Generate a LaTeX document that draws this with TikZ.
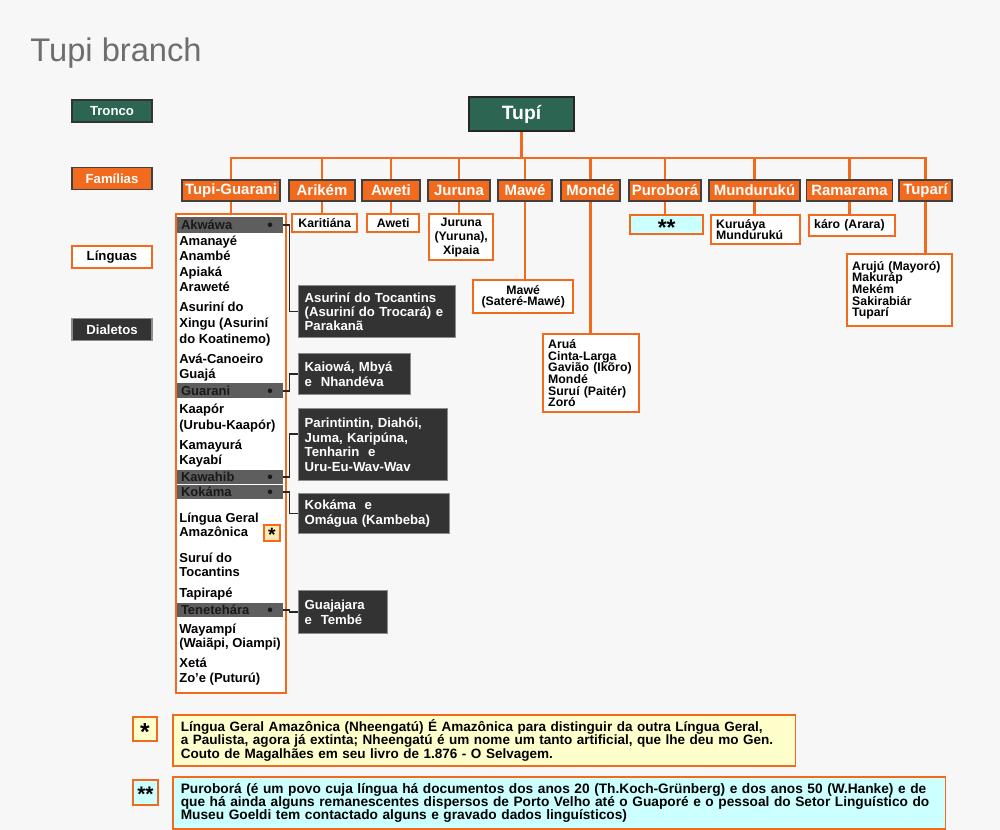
\documentclass[tikz,border=0pt]{standalone}
\usepackage{fontspec}
\setmainfont{Liberation Sans}
\definecolor{bggray}{HTML}{F7F7F7}
\definecolor{trunkgreen}{HTML}{2C6552}
\definecolor{famorange}{HTML}{F26A1E}
\definecolor{dialgray}{HTML}{333333}
\definecolor{rowgray}{HTML}{5E5E5E}
\definecolor{noteyellow}{HTML}{FFFFCC}
\definecolor{notecyan}{HTML}{CCFFFF}
\definecolor{starfill}{HTML}{FFE9B5}
\definecolor{titlegray}{HTML}{6E6E6E}
\newcommand{\rowdot}{\hfill\smash{\raisebox{-0.6pt}{\fontsize{9}{9}\selectfont\textbullet}}\hspace*{0.12cm}}
\begin{document}
\begin{tikzpicture}[x=0.02cm,y=-0.02cm]
% Styles
\tikzstyle{legend}=[minimum width=1.6cm,minimum height=0.44cm,inner sep=0pt,font=\fontsize{7.5}{9}\selectfont\bfseries]
\tikzstyle{family}=[fill=famorange,draw=black!75,line width=0.9pt,text=white,inner sep=0pt,minimum height=0.42cm,font=\fontsize{8.5}{10}\selectfont\bfseries]
\tikzstyle{lang}=[draw=famorange,line width=1.4pt,fill=white,anchor=north west,inner xsep=0.1cm,inner ysep=0pt,font=\fontsize{7}{6.6}\selectfont\bfseries]
\tikzstyle{item}=[anchor=base west,inner sep=0pt,font=\fontsize{7.4}{8}\selectfont\bfseries]
\tikzstyle{hlrow}=[fill=rowgray,text=black!90,text width=1.96cm,inner xsep=0.08cm,inner ysep=0pt,minimum height=0.3cm,font=\fontsize{7.4}{8}\selectfont\bfseries]
\tikzstyle{dialect}=[fill=dialgray,draw=black!45,line width=0.8pt,text=white,anchor=north west,align=left,inner xsep=0.12cm,inner ysep=0pt,font=\fontsize{7.5}{8.2}\selectfont\bfseries]
\tikzstyle{note}=[draw=famorange,line width=0.9pt,anchor=north west,align=left,inner xsep=0.16cm,inner ysep=0pt,font=\fontsize{7.7}{7.6}\selectfont\bfseries]
\tikzstyle{starbox}=[draw=famorange,line width=1pt,inner sep=0pt]
\tikzstyle{tree}=[draw=famorange,line width=1.5pt]
\tikzstyle{link}=[draw=black!85,line width=0.9pt]

% background
\fill[bggray] (0,0) rectangle (1000,830);
\useasboundingbox (0,0) rectangle (1000,830);

\node[anchor=base west,inner sep=0pt,text=titlegray,font=\fontsize{18.6}{20}\selectfont] (title) at (30,62) {Tupi branch};

% legend
\node[legend,fill=trunkgreen,draw=black!80,line width=0.9pt,text=white] (lTronco) at (112,111) {Tronco};
\node[legend,fill=famorange,draw=black!75,line width=0.9pt,text=white] (lFamilias) at (112,178.5) {Famílias};
\node[legend,fill=white,draw=famorange,line width=1.2pt] (lLinguas) at (112,257) {Línguas};
\node[legend,fill=dialgray,draw=black!45,line width=0.8pt,text=white] (lDialetos) at (112,329.5) {Dialetos};

% trunk
\node[fill=trunkgreen,draw=black!85,line width=1pt,text=white,minimum width=2.1cm,minimum height=0.68cm,inner sep=0pt,font=\fontsize{11}{13}\selectfont\bfseries] (tupi) at (521.5,114) {Tupí};

% families
\foreach \n/\x/\w/\t in {tg/231/98/Tupi-Guarani,ari/322/66/Arikém,awe/391/58/Aweti,jur/459/62/Juruna,maw/525/54/Mawé,mon/590.5/59/Mondé,pur/665/72/Puroborá,mun/754.5/91/Mundurukú,ram/849.5/86/Ramarama,tup/925.5/53/Tuparí}
\node[family,minimum width=\w*0.02cm] (\n) at (\x,190.5) {\t};

\path (tupi.south) ++(0,26) coordinate (bar);
\draw[tree] (tupi.south) -- (bar);
\foreach \n in {tg,ari,awe,jur,maw,mon,pur,mun,ram,tup}
\draw[tree] (bar) -| (\n.north);

% languages
\node[lang,text width=1.1cm,align=center,minimum height=0.36cm] (kar) at (291,213) {Karitiána};
\node[lang,text width=0.84cm,align=center,minimum height=0.36cm] (aweL) at (366,213) {Aweti};
\node[lang,text width=1.08cm,align=center,minimum height=0.92cm,font=\fontsize{7}{7.9}\selectfont\bfseries] (jurL) at (428,213) {Juruna\\(Yuruna),\\Xipaia};
\node[lang,text width=1.8cm,align=center,minimum height=0.66cm] (mawL) at (472,279) {Mawé\\(Sateré-Mawé)};
\node[lang,text width=1.72cm,align=left,minimum height=1.56cm] (monL) at (542,333) {Aruá\\Cinta-Larga\\Gavião (Ikõro)\\Mondé\\Suruí (Paitér)\\Zoró};
\node[lang,fill=notecyan,text width=1.26cm,align=center,minimum height=0.38cm] (purL) at (629,214) {{\fontsize{13}{13}\selectfont\raisebox{-.48em}[0pt][0pt]{**}}};
\node[lang,text width=1.58cm,align=left,minimum height=0.58cm] (munL) at (710,214) {Kuruáya\\Mundurukú};
\node[lang,text width=1.52cm,align=left,minimum height=0.42cm] (ramL) at (808,214) {káro (Arara)};
\node[lang,text width=1.9cm,align=left,minimum height=1.44cm] (tupL) at (846,253) {Arujú (Mayoró)\\Makuráp\\Mekém\\Sakirabiár\\Tuparí};

% Tupi-Guarani list
\node[draw=famorange,line width=1.4pt,fill=white,anchor=north west,minimum width=2.2cm,minimum height=9.58cm,inner sep=0pt] (tgl) at (175,213) {};

\node[hlrow,minimum height=0.32cm] (akw) at (230,225) {Akwáwa\rowdot};
\node[hlrow] (gua) at (230,391) {Guarani\rowdot};
\node[hlrow] (kaw) at (230,477) {Kawahib\rowdot};
\node[hlrow] (kok) at (230,492) {Kokáma\rowdot};
\node[hlrow] (ten) at (230,610) {Tenetehára\rowdot};

\foreach \y/\t in {246/Amanayé,261/Anambé,277/Apiaká,292/Araweté,312/Asuriní do,328/Xingu (Asuriní,344/do Koatinemo),364/Avá-Canoeiro,379/Guajá,414/Kaapór,430/(Urubu-Kaapór),450/Kamayurá,465/Kayabí,522/Língua Geral,537/Amazônica,562/Suruí do,577/Tocantins,597/Tapirapé,633/Wayampí,647/{(Waiãpi, Oiampi)},667/Xetá,682/Zo'e (Puturú)}
\node[item] (l\y) at (179,\y) {\t};

\node[starbox,fill=starfill,minimum size=0.32cm] (starL) at (272,533) {{\fontsize{11}{11}\selectfont\bfseries\raisebox{-.45em}[0pt][0pt]{*}}};

% dialects
\node[dialect,text width=2.9cm,minimum height=1.04cm] (d1) at (298,285) {Asuriní do Tocantins\\(Asuriní do Trocará) e\\Parakanã};
\node[dialect,text width=2.0cm,minimum height=0.82cm] (d2) at (298,353) {Kaiowá, Mbyá\\e~ Nhandéva};
\node[dialect,text width=2.74cm,minimum height=1.44cm] (d3) at (298,408) {Parintintin, Diahói,\\Juma, Karipúna,\\Tenharin~ e\\Uru-Eu-Wav-Wav};
\node[dialect,text width=2.78cm,minimum height=0.8cm] (d4) at (298,493) {Kokáma~ e\\Omágua (Kambeba)};
\node[dialect,text width=1.54cm,minimum height=0.86cm] (d5) at (298,590) {Guajajara\\e~ Tembé};

% connectors
\draw[tree] (tg.south) -- (tg.south |- tgl.north);
\foreach \f/\l in {ari/kar,awe/aweL,jur/jurL,maw/mawL,mon/monL,pur/purL,mun/munL,ram/ramL,tup/tupL}
\draw[tree] (\f.south) -- (\f.south |- \l.north);

\foreach \r/\a in {akw/d1.west,gua/d2.west,kaw/d3.172,kok/d4.west,ten/d5.west}
\draw[link] (\r.east) -- ++(6,0) |- (\a);

% notes
\node[starbox,fill=noteyellow,minimum size=0.48cm] (star1) at (145,729) {{\fontsize{14}{14}\selectfont\bfseries\raisebox{-.45em}[0pt][0pt]{*}}};
\node[note,fill=noteyellow,text width=12.14cm,minimum height=1.02cm] (note1) at (172,714) {Língua Geral Amazônica (Nheengatú) É Amazônica para distinguir da outra Língua Geral,\\a Paulista, agora já extinta; Nheengatú é um nome um tanto artificial, que lhe deu mo Gen.\\Couto de Magalhães em seu livro de 1.876 - O Selvagem.};

\node[starbox,fill=notecyan,minimum size=0.5cm] (star2) at (145.5,792.5) {{\fontsize{12}{12}\selectfont\bfseries\raisebox{-.45em}[0pt][0pt]{**}}};
\node[note,fill=notecyan,text width=15.14cm,minimum height=1.04cm,font=\fontsize{7.8}{7.6}\selectfont\bfseries] (note2) at (172,776) {Puroborá (é um povo cuja língua há documentos dos anos 20 (Th.Koch-Grünberg) e dos anos 50 (W.Hanke) e de\\que há ainda alguns remanescentes dispersos de Porto Velho até o Guaporé e o pessoal do Setor Linguístico do\\Museu Goeldi tem contactado alguns e gravado dados linguísticos)};

\end{tikzpicture}
\end{document}
